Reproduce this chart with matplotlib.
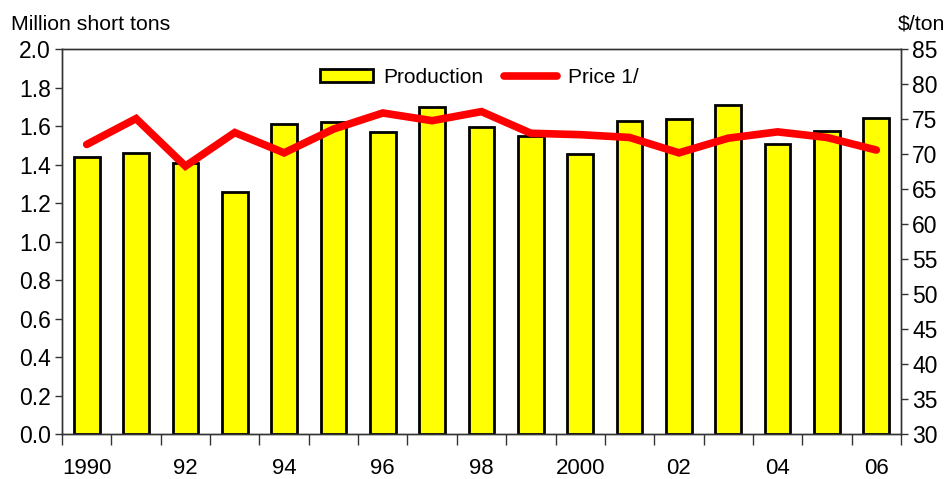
import matplotlib.pyplot as plt
import numpy as np

plt.rcParams['font.family'] = ['Liberation Sans', 'DejaVu Sans']

years = ['1990', '92', '94', '96', '98', '2000', '02', '04', '06']
production = [1.44, 1.46, 1.41, 1.26, 1.61, 1.62, 1.57, 1.70, 1.595, 1.55,
              1.455, 1.63, 1.64, 1.71, 1.51, 1.575, 1.645]
price = [71.4, 75.1, 68.3, 73.1, 70.2, 73.6, 75.9, 74.8, 76.1, 73.0,
         72.8, 72.4, 70.2, 72.3, 73.2, 72.4, 70.6]

x = np.arange(len(production))

fig = plt.figure(figsize=(9.5, 4.79), dpi=100)
ax = fig.add_axes([0.0653, 0.0939, 0.8831, 0.8031])
ax2 = ax.twinx()

bars = ax.bar(x, production, width=0.52, color='#FFFF00', edgecolor='black',
              linewidth=2, label='Production')
line, = ax2.plot(x, price, color='#FF0000', linewidth=5.5,
                 solid_capstyle='round', solid_joinstyle='miter', label='Price 1/')

ax.set_xlim(-0.5, len(x) - 0.5)
ax.set_ylim(0, 2.0)
ax.set_yticks(np.arange(0, 2.01, 0.2))
ax.set_yticklabels([f'{v:.1f}' for v in np.arange(0, 2.01, 0.2)])
ax2.set_ylim(30, 85)
ax2.set_yticks(np.arange(30, 86, 5))

# ticks at category boundaries, labels under every other bar
ax.set_xticks(np.arange(-0.5, len(x), 1.0))
ax.set_xticklabels([])
ax.set_xticks(x[::2], minor=True)
ax.set_xticklabels(years, minor=True)
ax.tick_params(axis='x', which='major', direction='out', length=8, width=1, color='#333333')
ax.tick_params(axis='x', which='minor', length=0, pad=17, labelsize=16)
ax.tick_params(axis='y', direction='out', length=5, width=1, labelsize=16.5,
               color='#333333', pad=3)
ax2.tick_params(axis='y', direction='out', length=5, width=1, labelsize=16.5,
                color='#333333', pad=3)

for a in (ax, ax2):
    for s in a.spines.values():
        s.set_linewidth(1)
        s.set_color('#333333')

ax.text(-0.0605, 1.04, 'Million short tons', transform=ax.transAxes,
        fontsize=15.3, ha='left', va='bottom')
ax2.text(1.053, 1.04, '$/ton', transform=ax2.transAxes,
         fontsize=15.3, ha='right', va='bottom')

ax2.legend([bars, line], ['Production', 'Price 1/'], loc='upper center',
           bbox_to_anchor=(0.497, 1.0), ncol=2, frameon=False, fontsize=15,
           handlelength=2.55, handleheight=0.6, handletextpad=0.5,
           columnspacing=1.0)

fig.savefig('out.png', dpi=100)
